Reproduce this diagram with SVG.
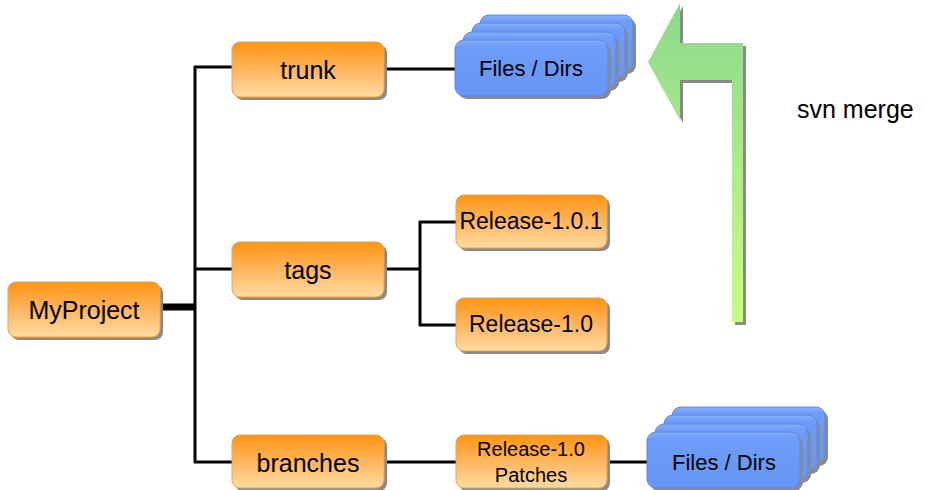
<svg xmlns="http://www.w3.org/2000/svg" width="926" height="490" viewBox="0 0 926 490">
<style>
.sh{fill:#8a8a8a}
.ob{fill:url(#og);stroke:#f5a040;stroke-width:1}
.bb{fill:url(#bg);stroke:#5a86e6;stroke-width:1}
.t{font-family:"Liberation Sans",Arial,sans-serif;fill:#000;text-anchor:middle}
.c{fill:none;stroke:#000;stroke-width:3}
</style>
<defs>
<linearGradient id="og" x1="0" y1="0" x2="0" y2="1">
<stop offset="0" stop-color="#ff9512"/>
<stop offset="0.5" stop-color="#ffb560"/>
<stop offset="1" stop-color="#ffdca3"/>
</linearGradient>
<linearGradient id="bg" x1="0" y1="0" x2="0" y2="1">
<stop offset="0" stop-color="#86aefc"/>
<stop offset="0.12" stop-color="#6d9cf8"/>
<stop offset="1" stop-color="#6696f6"/>
</linearGradient>
<linearGradient id="gg" x1="0" y1="0" x2="0" y2="1">
<stop offset="0" stop-color="#8ed88e"/>
<stop offset="1" stop-color="#c8ff7e"/>
</linearGradient>
<g id="fb">
<rect class="sh" x="3" y="3" width="153" height="56" rx="9"/>
<rect class="bb" x="0" y="0" width="153" height="56" rx="9"/>
</g>
</defs>

<g id="connectors">
<path d="M160,307 H196" fill="none" stroke="#000" stroke-width="7"/>
<path class="c" d="M195,66 V463"/>
<path class="c" d="M194,67 H232"/>
<path class="c" d="M384,69 H455"/>
<path class="c" d="M194,269 H232"/>
<path class="c" d="M384,269 H420"/>
<path class="c" d="M420,221 V326"/>
<path class="c" d="M419,222 H456"/>
<path class="c" d="M419,325 H456"/>
<path class="c" d="M194,462 H232"/>
<path class="c" d="M384,462 H456"/>
<path class="c" d="M607,462 H647"/>
</g>

<g id="myproject">
<rect class="sh" x="11" y="285" width="152" height="55" rx="8"/>
<rect class="ob" x="8" y="282" width="152" height="55" rx="8"/>
<text class="t" x="84" y="319" font-size="25">MyProject</text>
</g>

<g id="trunk">
<rect class="sh" x="235" y="45" width="152" height="55" rx="8"/>
<rect class="ob" x="232" y="42" width="152" height="55" rx="8"/>
<text class="t" x="308" y="79" font-size="25">trunk</text>
</g>

<g id="tags">
<rect class="sh" x="235" y="245" width="152" height="55" rx="8"/>
<rect class="ob" x="232" y="242" width="152" height="55" rx="8"/>
<text class="t" x="308" y="279" font-size="25">tags</text>
</g>

<g id="branches">
<rect class="sh" x="235" y="438" width="152" height="53" rx="8"/>
<rect class="ob" x="232" y="435" width="152" height="53" rx="8"/>
<text class="t" x="308" y="472" font-size="25">branches</text>
</g>

<g id="release-1-0-1">
<rect class="sh" x="459" y="198" width="151" height="53" rx="8"/>
<rect class="ob" x="456" y="195" width="151" height="53" rx="8"/>
<text class="t" x="531" y="229" font-size="23">Release-1.0.1</text>
</g>

<g id="release-1-0">
<rect class="sh" x="459" y="301" width="151" height="53" rx="8"/>
<rect class="ob" x="456" y="298" width="151" height="53" rx="8"/>
<text class="t" x="531" y="332" font-size="23">Release-1.0</text>
</g>

<g id="release-1-0-patches">
<rect class="sh" x="459" y="438" width="151" height="53" rx="8"/>
<rect class="ob" x="456" y="435" width="151" height="53" rx="8"/>
<text class="t" x="531" y="456" font-size="20">Release-1.0</text>
<text class="t" x="531" y="482" font-size="20">Patches</text>
</g>

<g id="files-trunk">
<use href="#fb" x="480" y="15"/>
<use href="#fb" x="472" y="23"/>
<use href="#fb" x="463" y="32"/>
<use href="#fb" x="455" y="40"/>
<text class="t" x="531" y="76" font-size="22">Files / Dirs</text>
</g>

<g id="files-branches">
<use href="#fb" x="672" y="407"/>
<use href="#fb" x="664" y="415"/>
<use href="#fb" x="655" y="424"/>
<use href="#fb" x="647" y="432"/>
<text class="t" x="724" y="470" font-size="22">Files / Dirs</text>
</g>

<g id="merge-arrow">
<polygon fill="#8a8a8a" points="651,65 683,6 683,46 746,46 746,325 735,325 735,83 683,83 683,123"/>
<polygon fill="url(#gg)" points="648,62 680,3 680,43 743,43 743,322 732,322 732,80 680,80 680,120"/>
<text x="797" y="118" font-family="Liberation Sans, Arial, sans-serif" font-size="25" fill="#000">svn merge</text>
</g>
</svg>
